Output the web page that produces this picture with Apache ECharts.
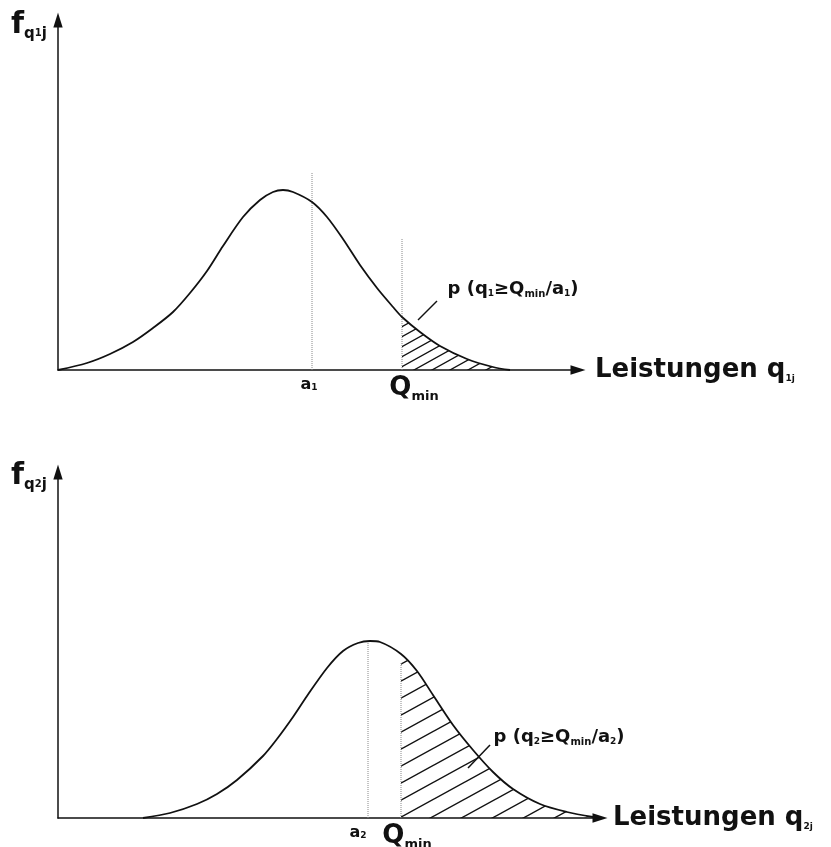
<!DOCTYPE html>
<html>
<head>
<meta charset="utf-8">
<script src="https://cdn.jsdelivr.net/npm/echarts@6/dist/echarts.min.js"></script>
<style>
  html, body { margin: 0; background: #fff; }
  #chart { width: 831px; height: 847px; }
</style>
</head>
<body>
<div id="chart"></div>
<script>
// Dichtekurven: [Leistung, Dichte]
const curve1 = [[0,0],[29,7],[52,16],[75,28],[95,42],[115,58],[132,77],[149,99],[165,124],[185,153],[202,170],[215,178],[225,180],[235,178],[254,168],[269,153],[285,131],[302,105],[319,82],[335,63],[344,53],[362,38],[382,24],[409,11],[435,3],[452,0]];
const curve2 = [[85,0],[112,5],[139,14],[159,24],[179,38],[205,62],[219,79],[235,101],[249,122],[269,150],[285,167],[300,175],[312,177],[322,176],[343,164],[359,147],[375,123],[395,93],[415,68],[435,46],[455,29],[482,14],[509,6],[535,1]];

// Lage von a und Qmin auf der Leistungsachse, Höhe der gepunkteten Linien
const aPos = [254, 310];
const aTop = [197, 178];
const qminPos = [344, 343];
const qminTop = [132, 155];

// Hinweislinien zur Beschriftung p(...)
const leader1 = [[360, 50], [379, 69]];
const leader2 = [[410, 50], [432, 73]];

const xMax = [520, 542];
const yMax = [350, 346];

const FONT = 'DejaVu Sans';
const BLACK = '#111';
const ARROW = 'path://M5,0L10,16L0,16Z';

const chart = echarts.init(document.getElementById('chart'));

// Schraffur als Kachel: diagonale Linie, nach rechts oben
function hatch(run, step, lw) {
  const c = document.createElement('canvas');
  c.width = run;
  c.height = step;
  const g = c.getContext('2d');
  g.strokeStyle = BLACK;
  g.lineWidth = lw;
  g.beginPath();
  [-run, 0, run].forEach(function (dx) {
    g.moveTo(dx - run, 2 * step);
    g.lineTo(dx + 2 * run, -step);
  });
  g.stroke();
  return c;
}

const txt = (size, extra) => Object.assign({ fontFamily: FONT, fontWeight: 'bold', fontSize: size, color: BLACK }, extra || {});

const rich = {
  big: txt(26, { verticalAlign: 'bottom' }),
  q: txt(26, { verticalAlign: 'bottom' }),
  a: txt(16, { verticalAlign: 'bottom' }),
  p: txt(18, { verticalAlign: 'bottom' }),
  sub: txt(9, { verticalAlign: 'bottom' }),
  min: txt(13, { verticalAlign: 'bottom', padding: [0, 0, -2, 0] }),
  pmin: txt(10, { verticalAlign: 'bottom', padding: [0, 0, -1, 0] }),
  f: txt(30, { verticalAlign: 'bottom' }),
  fq: txt(15, { verticalAlign: 'bottom', padding: [0, 0, -2, 0] }),
  fs: txt(10, { verticalAlign: 'bottom', padding: [0, 0, 2, 0] })
};

const panels = [
  { curve: curve1, leader: leader1, hatch: hatch(18, 10, 1.3), idx: '1',
    aOff: -3, qOff: 12, pDist: 10, pOff: -12, nameGap: 17 },
  { curve: curve2, leader: leader2, hatch: hatch(31, 17, 1.4), idx: '2',
    aOff: -10, qOff: 6, pDist: 3, pOff: -8, nameGap: 13 }
];

const grid = [
  { left: 58, top: 20, width: xMax[0], height: yMax[0] },
  { left: 58, top: 472, width: xMax[1], height: yMax[1] }
];

const axisLine = {
  show: true,
  lineStyle: { color: BLACK, width: 1.5 },
  symbol: ['none', ARROW],
  symbolSize: [11, 15]
};

const xAxis = panels.map((p, i) => ({
  gridIndex: i, type: 'value', min: 0, max: xMax[i],
  axisLine: axisLine, axisTick: { show: false }, axisLabel: { show: false }, splitLine: { show: false },
  name: '{big|Leistungen q}{sub|' + p.idx + 'j}',
  nameLocation: 'end', nameGap: p.nameGap,
  nameTextStyle: { rich: rich, verticalAlign: 'middle', align: 'left' }
}));

const yAxis = panels.map((p, i) => ({
  gridIndex: i, type: 'value', min: 0, max: yMax[i],
  axisLine: axisLine, axisTick: { show: false }, axisLabel: { show: false }, splitLine: { show: false }
}));

const labelBase = { show: true, color: BLACK, opacity: 1, textBorderWidth: 0, rich: rich };

const series = [];
panels.forEach((p, i) => {
  const base = { xAxisIndex: i, yAxisIndex: i, symbol: 'none', silent: true, animation: false };
  // schraffierte Fläche rechts von Qmin
  series.push(Object.assign({}, base, {
    type: 'line', smooth: 0.3, z: 1,
    data: p.curve.filter(d => d[0] >= qminPos[i]),
    lineStyle: { width: 0 },
    areaStyle: { color: { image: p.hatch, repeat: 'repeat' }, opacity: 1 }
  }));
  // gepunktete Linien bei a und Qmin
  [[aPos[i], aTop[i]], [qminPos[i], qminTop[i]]].forEach(g => {
    series.push(Object.assign({}, base, {
      type: 'line', z: 2,
      data: [[g[0], 0], [g[0], g[1]]],
      lineStyle: { color: '#888', width: 1, type: 'dotted' }
    }));
  });
  // Dichtekurve
  series.push(Object.assign({}, base, {
    type: 'line', smooth: 0.3, z: 3, data: p.curve,
    lineStyle: { color: BLACK, width: 1.8 }
  }));
  // Hinweislinie
  series.push(Object.assign({}, base, {
    type: 'line', z: 3, data: p.leader,
    lineStyle: { color: BLACK, width: 1.5 }
  }));
  // Beschriftungen
  series.push(Object.assign({}, base, {
    type: 'scatter', symbol: 'circle', symbolSize: 1, z: 4,
    itemStyle: { color: 'rgba(0,0,0,0)' },
    data: [
      { value: [aPos[i], 0], label: Object.assign({}, labelBase, { position: 'bottom', distance: 6, offset: [p.aOff, 0],
          formatter: '{a|a}{sub|' + p.idx + '}' }) },
      { value: [qminPos[i], 0], label: Object.assign({}, labelBase, { position: 'bottom', distance: 5, offset: [p.qOff, 0],
          formatter: '{q|Q}{min|min}' }) },
      { value: p.leader[1], label: Object.assign({}, labelBase, { position: 'right', distance: p.pDist, offset: [0, p.pOff],
          formatter: '{p|p (q}{sub|' + p.idx + '}{p|≥Q}{pmin|min}{p|/a}{sub|' + p.idx + '}{p|)}' }) }
    ]
  }));
});

const option = {
  backgroundColor: '#fff',
  animation: false,
  title: [
    { left: 6, top: 5, text: '{f|f}{fq|q}{fs|1}{fq|j}', textStyle: { rich: rich } },
    { left: 6, top: 456, text: '{f|f}{fq|q}{fs|2}{fq|j}', textStyle: { rich: rich } }
  ],
  grid: grid,
  xAxis: xAxis,
  yAxis: yAxis,
  series: series
};

chart.setOption(option);
</script>
</body>
</html>
